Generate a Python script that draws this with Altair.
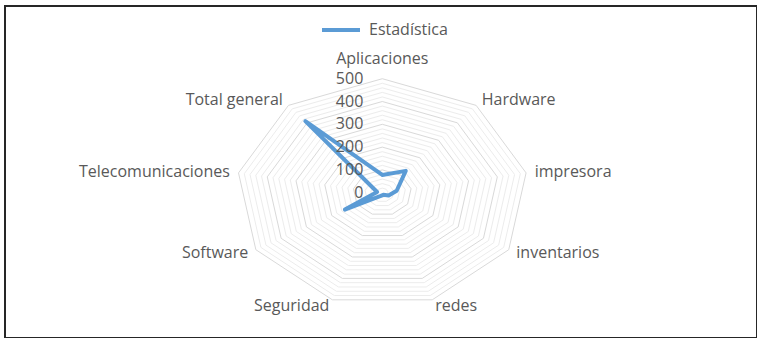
import altair as alt
import pandas as pd

# ---- data ----
categories = ["Aplicaciones", "Hardware", "impresora", "inventarios", "redes",
              "Seguridad", "Software", "Telecomunicaciones", "Total general"]
values = [78, 125, 50, 25, 10, 15, 148, 18, 410]
series_name = "Estadística"
major_ticks = [0, 100, 200, 300, 400, 500]
minor_levels = [20, 40, 60, 80, 120, 140, 160, 180, 220, 240, 260, 280,
                320, 340, 360, 380, 420, 440, 460, 480]

N = len(categories)
FONT = "Open Sans"
TXT = "#595959"
FS = 16

# polygon rows (closed)
poly = pd.DataFrame({
    "k": [i % N for i in range(N + 1)],
    "ord": list(range(N + 1)),
    "cat": [categories[i % N] for i in range(N + 1)],
    "value": [values[i % N] for i in range(N + 1)],
    "serie": [series_name] * (N + 1),
})

ring_rows = []
for lvl in minor_levels + major_ticks[1:]:
    for i in range(N + 1):
        ring_rows.append({"level": lvl, "k": i % N, "ord": i,
                          "major": lvl in major_ticks})
rings = pd.DataFrame(ring_rows)

cats = pd.DataFrame({"k": list(range(N)), "cat": categories})
ticks = pd.DataFrame({"tick": major_ticks, "label": [str(t) for t in major_ticks]})

xs = alt.Scale(domain=[-1292.1, 1283.2], nice=False, zero=False)
ys = alt.Scale(domain=[-637.3, 818.9], nice=False, zero=False)

ang = "2*PI*datum.k/" + str(N)

def X(f):
    return alt.X(f, type="quantitative", scale=xs, axis=None)

def Y(f):
    return alt.Y(f, type="quantitative", scale=ys, axis=None)

ring_base = alt.Chart(rings).transform_calculate(
    px="datum.level*sin(" + ang + ")", py="datum.level*cos(" + ang + ")")

minor_layer = ring_base.transform_filter("!datum.major").mark_line(
    color="#ececec", strokeWidth=1).encode(
    x=X("px"), y=Y("py"), detail="level:N", order="ord:Q")
major_layer = ring_base.transform_filter("datum.major").mark_line(
    color="#d9d9d9", strokeWidth=1).encode(
    x=X("px"), y=Y("py"), detail="level:N", order="ord:Q")

data_layer = alt.Chart(poly).transform_calculate(
    px="datum.value*sin(" + ang + ")", py="datum.value*cos(" + ang + ")"
).mark_line(strokeWidth=4, strokeJoin="round", strokeCap="round").encode(
    x=X("px"), y=Y("py"), order="ord:Q",
    color=alt.Color("serie:N",
                    scale=alt.Scale(domain=[series_name], range=["#5B9BD5"]),
                    legend=alt.Legend(title=None, orient="none", legendX=315,
                                      legendY=3, padding=0, symbolType="stroke",
                                      symbolSize=1444, symbolStrokeWidth=4,
                                      labelFont=FONT, labelFontSize=FS,
                                      labelColor=TXT, labelOffset=7)))

cat_base = alt.Chart(cats).transform_calculate(
    s="sin(" + ang + ")", c="cos(" + ang + ")"
).transform_calculate(
    lr="abs(datum.s) < 0.05 ? 587 : 530"
).transform_calculate(
    px="datum.lr*datum.s", py="datum.lr*datum.c")

def cat_layer(cond, align):
    return cat_base.transform_filter(cond).mark_text(
        align=align, baseline="middle", font=FONT, fontSize=FS, color=TXT
    ).encode(x=X("px"), y=Y("py"), text="cat:N")

cat_left = cat_layer("datum.s > 0.05", "left")
cat_right = cat_layer("datum.s < -0.05", "right")
cat_center = cat_layer("abs(datum.s) <= 0.05", "center")

tick_layer = alt.Chart(ticks).transform_calculate(px="0").mark_text(
    align="right", baseline="middle", dx=-19, font=FONT, fontSize=FS, color=TXT
).encode(x=X("px"), y=Y("tick"), text="label:N")

chart = alt.layer(
    minor_layer, major_layer, data_layer, cat_left, cat_right, cat_center, tick_layer
).properties(
    width=752, height=332,
    autosize=alt.AutoSizeParams(type="none"),
    padding={"left": 5, "top": 6, "right": 0, "bottom": 0},
    background="white",
).configure_view(stroke="#262626", strokeWidth=2)

chart.save("out.html", embed_options={"renderer": "svg", "actions": False})
